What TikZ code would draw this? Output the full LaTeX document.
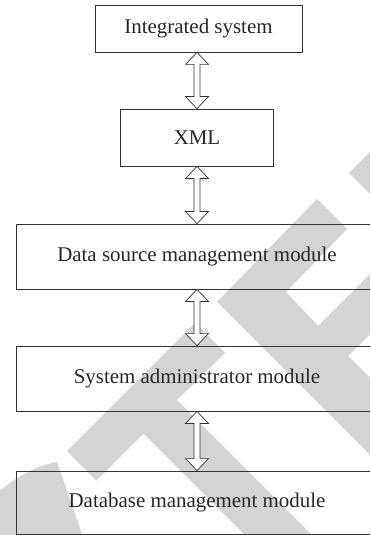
\documentclass[tikz,border=0pt]{standalone}
\usepackage{fontspec}
\setmainfont{Liberation Serif}
\usepackage{tikz}
\usetikzlibrary{calc}
\definecolor{wmgray}{gray}{0.83}
\definecolor{linegray}{gray}{0.2}

\tikzset{
  block/.style={draw=linegray,line width=0.8bp,inner sep=0pt,text=black!85,font=\fontsize{21}{24}\selectfont},
  dblarrow/.style={draw=linegray,fill=white,line width=0.7bp,
    to path={let \p1=(\tikztostart), \p2=(\tikztotarget) in
      (\x2,\y1) -- (\x2+11.5bp,\y1-12bp) -- (\x2+3bp,\y1-12bp) -- (\x2+3bp,\y2+12bp)
      -- (\x2+11.5bp,\y2+12bp) -- (\x2,\y2) -- (\x2-11.5bp,\y2+12bp) -- (\x2-3bp,\y2+12bp)
      -- (\x2-3bp,\y1-12bp) -- (\x2-11.5bp,\y1-12bp) -- cycle}}
}

\begin{document}
\begin{tikzpicture}[x=1bp,y=-1bp]
\useasboundingbox (0,0) rectangle (370,535);
\clip (0,0) rectangle (370,535);

% stamp in the background
\fill[wmgray] (349,173) -- (385,137) -- (385,209) -- cycle;
\fill[wmgray] (317,199) -- (347,229) -- (286,292) -- (318,326) -- (372,272) -- (402,302) -- (348,356) -- (381,389) -- (444,326) -- (474,356) -- (372,457) -- (217,302) -- cycle;
\fill[wmgray] (67,451) -- (195,323) -- (225,353) -- (177,400) -- (327,550) -- (260,550) -- (143.5,433.5) -- (96.5,480.5) -- cycle;
\fill[wmgray] (-2,492) .. controls (15,478) and (35,466) .. (57,462) -- (84,540) -- (-2,540) -- cycle;

\node (sys) at (198.5,28.5)[block,minimum width=207bp,minimum height=47bp] {Integrated system};
\node (xml) at (197,137.5)[block,minimum width=153bp,minimum height=57bp] {XML};
\node (dsm) at (197,256.5)[block,minimum width=362bp,minimum height=65bp] {Data source management module};
\node (sam) at (197,378.5)[block,minimum width=362bp,minimum height=65bp] {System administrator module};
\node (dbm) at (197,502.5)[block,minimum width=362bp,minimum height=63bp] {Database management module};
\draw [dblarrow] (sys.south) to (xml.north);
\draw [dblarrow] (xml.south) to (dsm.north);
\draw [dblarrow] (dsm.south) to (sam.north);
\draw [dblarrow] (sam.south) to (dbm.north);
\end{tikzpicture}
\end{document}
